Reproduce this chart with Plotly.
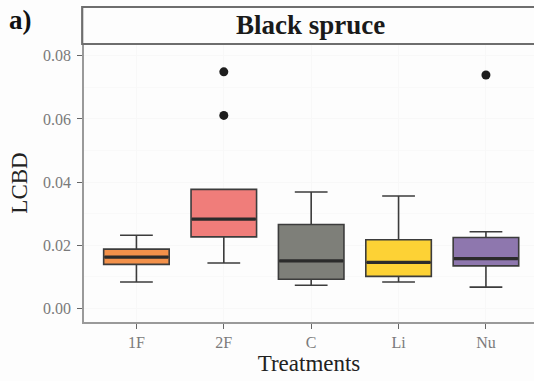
import plotly.graph_objects as go

categories = ["1F", "2F", "C", "Li", "Nu"]
lower = [0.0084, 0.0144, 0.0074, 0.0084, 0.0068]
q1 = [0.0140, 0.0227, 0.0093, 0.0102, 0.0135]
median = [0.0163, 0.0283, 0.0151, 0.0146, 0.0158]
q3 = [0.0188, 0.0377, 0.0266, 0.0218, 0.0225]
upper = [0.0232, 0.0377, 0.0369, 0.0356, 0.0243]
outlier_x = ["2F", "2F", "Nu"]
outlier_y = [0.0749, 0.0611, 0.0739]
colors = ["#F3914A", "#F07D7A", "#7E7F79", "#FDD235", "#8E77AE"]

serif = "Liberation Serif"
fig = go.Figure()
for i, c in enumerate(categories):
    fig.add_trace(go.Box(
        x=[c], q1=[q1[i]], median=[median[i]], q3=[q3[i]],
        lowerfence=[lower[i]], upperfence=[upper[i]],
        fillcolor=colors[i], line=dict(color="#3c3c3c", width=1.6),
        width=0.75, boxpoints=False, hoverinfo="skip", showlegend=False))
    fig.add_trace(go.Box(
        x=[c], q1=[median[i]], median=[median[i]], q3=[median[i]],
        lowerfence=[median[i]], upperfence=[median[i]],
        fillcolor="rgba(0,0,0,0)", line=dict(color="#2b2b2b", width=3.2),
        width=0.73, boxpoints=False, hoverinfo="skip", showlegend=False))

fig.add_trace(go.Scatter(
    x=outlier_x, y=outlier_y, mode="markers",
    marker=dict(color="#1e1e1e", size=9), hoverinfo="skip", showlegend=False))

fig.update_layout(
    width=534, height=381,
    margin=dict(l=84, r=0, t=44, b=59),
    paper_bgcolor="#FDFDFD", plot_bgcolor="#FDFDFD",
    boxmode="overlay",
    xaxis=dict(
        type="category", categoryorder="array", categoryarray=categories,
        range=[-0.6, 4.55], showline=True, linecolor="#9a9a9a", linewidth=1.5,
        ticks="outside", ticklen=5, tickcolor="#666", tickwidth=1.3,
        ticklabelstandoff=0,
        showgrid=True, gridcolor="#F8F8F8", gridwidth=1,
        tickfont=dict(family=serif, size=16, color="#7a7a7a"),
        title=dict(text="Treatments", font=dict(family=serif, size=23, color="#222"), standoff=4),
        zeroline=False),
    yaxis=dict(
        range=[-0.00424, 0.0837], tickvals=[0, 0.02, 0.04, 0.06, 0.08],
        ticktext=["0.00", "0.02", "0.04", "0.06", "0.08"],
        showline=True, linecolor="#9a9a9a", linewidth=1.5,
        ticks="outside", ticklen=5, tickcolor="#666", tickwidth=1.3,
        ticklabelstandoff=3,
        showgrid=True, gridcolor="#F8F8F8", gridwidth=1,
        minor=dict(dtick=0.01, tick0=0, showgrid=True, gridcolor="#F9F9F9", ticks=""),
        tickfont=dict(family=serif, size=16, color="#7a7a7a"),
        title=dict(text="LCBD", font=dict(family=serif, size=23, color="#222"), standoff=9),
        zeroline=False),
    shapes=[dict(type="rect", xref="paper", yref="paper",
                 x0=-0.004, x1=1.02, y0=1.0, y1=1.0 + 37 / 278,
                 line=dict(color="#6e6e6e", width=2.2), fillcolor="#FDFDFD")],
    annotations=[
        dict(text="<b>Black spruce</b>", xref="paper", yref="paper",
             x=0.504, y=1.0 + 19 / 278, xanchor="center", yanchor="middle",
             showarrow=False, font=dict(family=serif, size=27, color="#1a1a1a")),
        dict(text="<b>a)</b>", xref="paper", yref="paper",
             x=-84 / 450 + 7 / 450, y=1.0 + 24 / 278, xanchor="left", yanchor="middle",
             showarrow=False, font=dict(family=serif, size=27, color="#111")),
    ],
)

fig.write_html("out.html")
